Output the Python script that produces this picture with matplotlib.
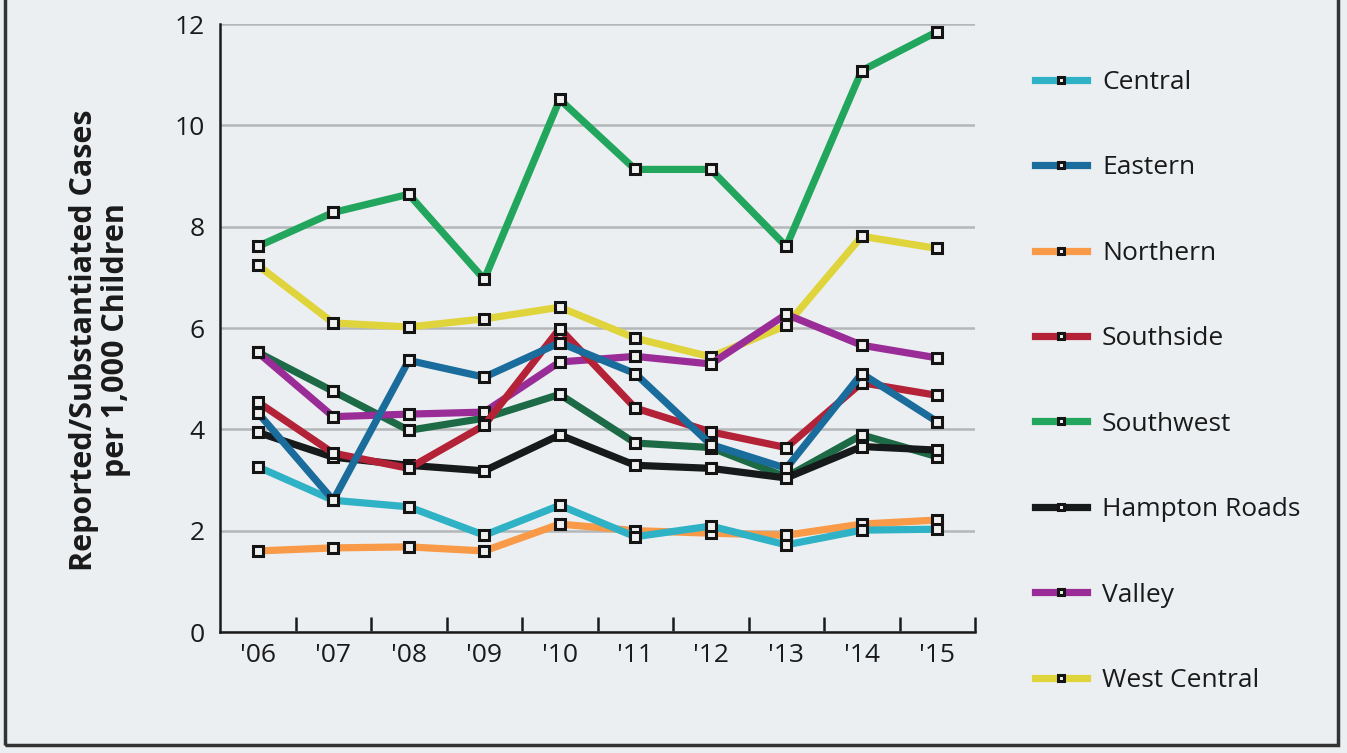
import matplotlib
matplotlib.use("Agg")
import matplotlib.pyplot as plt
from matplotlib.patches import Rectangle

years = ["'06", "'07", "'08", "'09", "'10", "'11", "'12", "'13", "'14", "'15"]

central       = [3.26, 2.60, 2.47, 1.91, 2.50, 1.88, 2.09, 1.72, 2.01, 2.03]
eastern       = [4.33, 2.60, 5.36, 5.03, 5.71, 5.10, 3.70, 3.23, 5.10, 4.15]
northern      = [1.60, 1.66, 1.68, 1.60, 2.13, 2.00, 1.95, 1.91, 2.13, 2.21]
southside     = [4.54, 3.53, 3.23, 4.08, 5.99, 4.42, 3.95, 3.64, 4.92, 4.67]
southwest     = [7.61, 8.28, 8.64, 6.96, 10.51, 9.13, 9.13, 7.61, 11.08, 11.85]
hampton_roads = [3.94, 3.45, 3.29, 3.18, 3.89, 3.29, 3.23, 3.04, 3.66, 3.59]
valley        = [5.52, 4.25, 4.30, 4.34, 5.33, 5.44, 5.29, 6.27, 5.66, 5.41]
west_central  = [7.24, 6.10, 6.02, 6.18, 6.41, 5.80, 5.43, 6.05, 7.81, 7.57]
unlabeled_dark_green = [5.52, 4.75, 3.98, 4.22, 4.69, 3.73, 3.64, 3.06, 3.89, 3.46]

series_names = ["Central", "Eastern", "Northern", "Southside", "Southwest",
                "Hampton Roads", "Valley", "West Central"]
series_values = [central, eastern, northern, southside, southwest,
                 hampton_roads, valley, west_central]
series_colors = ["#2fb2c6", "#1a6c9c", "#f89a48", "#b42238", "#22a55c",
                 "#161a1a", "#9a2c98", "#e0d43c"]

y_ticks = [0, 2, 4, 6, 8, 10, 12]

plt.rcParams['font.family'] = ['Open Sans', 'DejaVu Sans']

W, H = 1347, 753
bg = "#eceff1"
fig = plt.figure(figsize=(W / 100, H / 100), dpi=100, facecolor=bg)
ax = fig.add_axes([220 / W, 1 - 632 / H, (975 - 220) / W, (632 - 24) / H])
ax.set_facecolor(bg)

x = list(range(len(years)))
mk = dict(marker="s", ms=7.5, mfc="#f0f0f0", mec="#141414", mew=2.2)

# extra unlabeled series (no legend entry)
ax.plot(x, unlabeled_dark_green, color="#1d6a47", lw=5.2, zorder=3,
        label="_nolegend_", **mk)

order = [4, 7, 5, 2, 0, 6, 3, 1]
for k, i in enumerate(order):
    ax.plot(x, series_values[i], color=series_colors[i], lw=5.2,
            zorder=3 + k * 0.1, label=series_names[i], **mk)

ax.set_xlim(-0.5, len(years) - 0.5)
ax.set_ylim(0, 12)
ax.set_yticks(y_ticks)
ax.set_yticklabels([str(t) for t in y_ticks])
ax.yaxis.grid(True, color="#b4b6b8", lw=1.8, zorder=1)
ax.set_axisbelow(True)
ax.tick_params(axis="y", length=0, labelsize=19, pad=11, colors="#1a1a1a")

ax.set_xticks([i + 0.5 for i in range(len(years))])
ax.set_xticklabels([])
ax.set_xticks(x, minor=True)
ax.set_xticklabels(years, minor=True)
ax.tick_params(axis="x", which="major", direction="in", length=11, width=1.8, color="#1a1a1a")
ax.tick_params(axis="x", which="minor", length=0, labelsize=19, pad=8, colors="#1a1a1a")

for s in ["top", "right"]:
    ax.spines[s].set_visible(False)
for s in ["left", "bottom"]:
    ax.spines[s].set_color("#1a1a1a")
    ax.spines[s].set_linewidth(1.8)

fig.text(100 / W, 1 - 340 / H, "Reported/Substantiated Cases\nper 1,000 Children",
         rotation=90, ha="center", va="center", multialignment="center",
         fontsize=22, fontweight="bold", color="#1a1a1a", linespacing=1.1)

handles, labels = ax.get_legend_handles_labels()
hl = dict(zip(labels, handles))
leg = fig.legend([hl[n] for n in series_names], series_names,
                 loc="upper left", bbox_to_anchor=(1035 / W, 1 - 70 / H),
                 frameon=False, fontsize=19, handlelength=1.97, handletextpad=0.57,
                 labelspacing=2.29, borderpad=0, borderaxespad=0, markerscale=0.6)
for t in leg.get_texts():
    t.set_color("#1a1a1a")

# outer frame
fig.patches.append(Rectangle((5 / W, 1 - 745 / H), (1338 - 5) / W, 745 / H + 0.05,
                             transform=fig.transFigure, fill=False,
                             edgecolor="#333333", lw=2.5))

fig.savefig("out.png", dpi=100, facecolor=bg)
